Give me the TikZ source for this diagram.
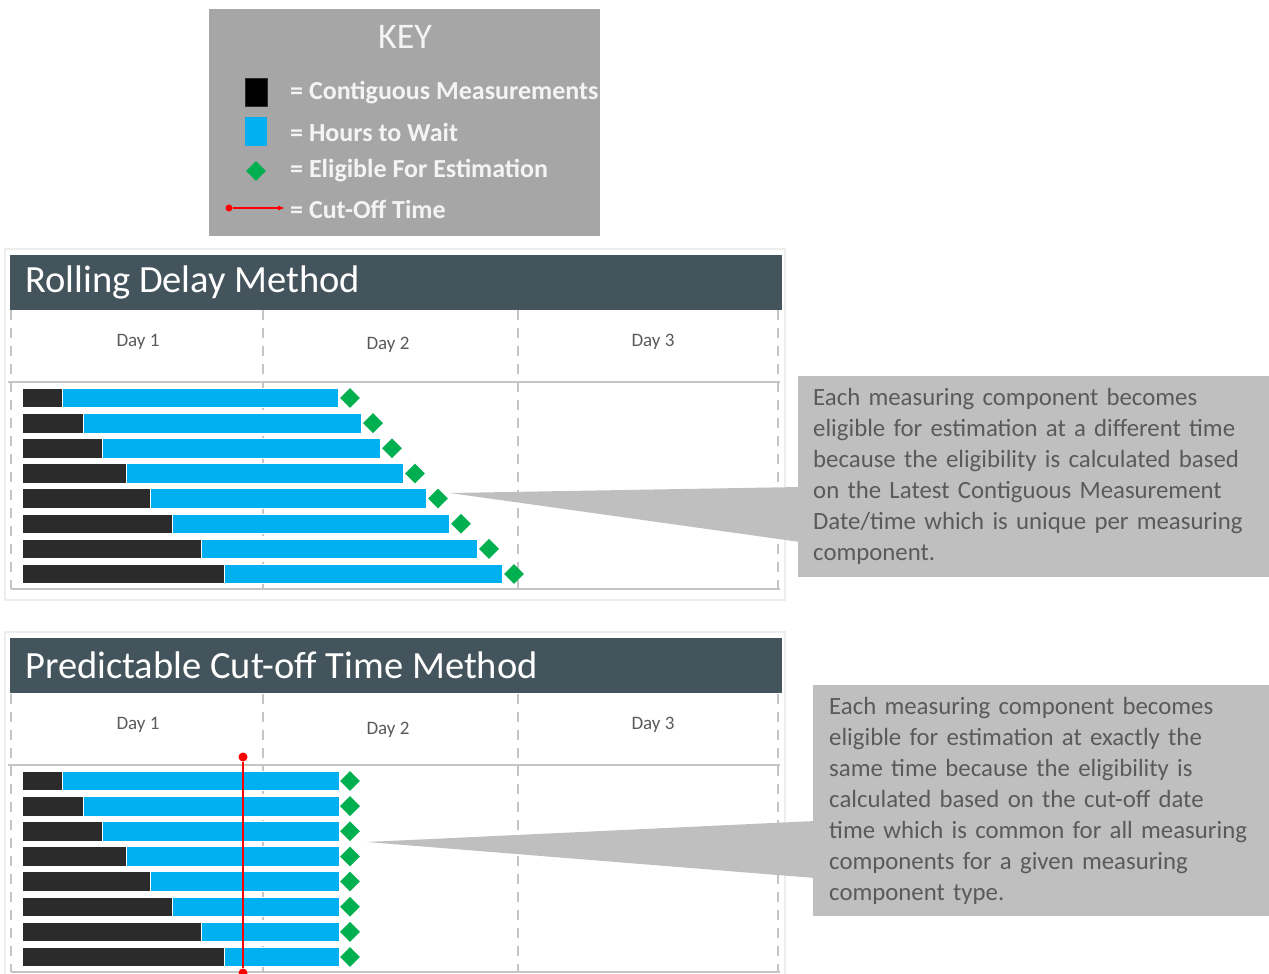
\documentclass[tikz,border=0pt]{standalone}
\usepackage{fontspec}
\setmainfont{Carlito}
\usetikzlibrary{arrows.meta,positioning,calc,shapes.geometric}

\definecolor{keygray}{HTML}{A6A6A6}
\definecolor{keywhite}{HTML}{F4F4F4}
\definecolor{slate}{HTML}{44545C}
\definecolor{barblack}{HTML}{2B2B2B}
\definecolor{waitblue}{HTML}{00B0F0}
\definecolor{eliggreen}{HTML}{00B050}
\definecolor{notegray}{HTML}{BFBFBF}
\definecolor{txtgray}{HTML}{5A5A5A}
\definecolor{gridgray}{HTML}{C4C4C4}

\begin{document}
\begin{tikzpicture}[
  x=1pt, y=-1pt,
  keybox/.style={fill=keygray, anchor=north west, inner sep=0pt, minimum width=391pt, minimum height=227pt},
  keytxt/.style={anchor=west, inner sep=0pt, text=keywhite, font=\bfseries\fontsize{26}{30}\selectfont},
  head/.style={fill=slate, anchor=north west, inner sep=0pt, minimum width=772pt, minimum height=55pt},
  headtxt/.style={text=white, inner sep=0pt, font=\fontsize{38.5}{44}\selectfont},
  daylbl/.style={text=txtgray, font=\fontsize{19}{22}\selectfont},
  grid/.style={gridgray, line width=2pt, dash pattern=on 10pt off 8pt},
  axis/.style={gridgray, line width=2.5pt},
  frame/.style={draw=black!7, line width=1.5pt},
  measbar/.style={fill=barblack, draw=white, line width=0.8pt},
  waitbar/.style={fill=waitblue, draw=white, line width=0.8pt},
  elig/.style={diamond, fill=eliggreen, inner sep=0pt, minimum size=20pt},
  note/.style={fill=notegray, text=txtgray, anchor=north west, align=left, inner ysep=0pt,
    font=\fontsize{24.8}{31}\selectfont},
  cutoff/.style={red, line width=1.6pt},
  >={Latex[length=7pt]}
]
\useasboundingbox (0,0) rectangle (1269,974);

% key
\node[keybox] (key) at (209,9) {};
\node[text=keywhite, font=\fontsize{36}{40}\selectfont] (keyttl) at (405,37) {KEY};
\node[fill=black, draw=barblack, minimum width=22pt, minimum height=28pt, inner sep=0pt] (kblk) at (256,92) {};
\node[fill=waitblue, minimum width=22pt, minimum height=29pt, inner sep=0pt] (kblu) at (256,131) {};
\node[elig] (kdia) at (256,171) {};
\node[fill=red, circle, inner sep=0pt, minimum size=7pt] (kdot) at (229,208) {};
\coordinate (kend) at (285,208);
\draw[cutoff, line width=1.2pt, ->] (kdot) -- (kend);
\node[keytxt] (t1) at (290,93) {= Contiguous Measurements};
\node[keytxt] (t2) at (290,132) {= Hours to Wait};
\node[keytxt] (t3) at (290,171) {= Eligible For Estimation};
\node[keytxt] (t4) at (290,209) {= Cut-Off Time};

% rolling delay chart
\draw[frame] (5,249) rectangle (785,600);
\node[head] (hdrA) at (10,255) {};
\node[headtxt, right=15pt of hdrA.west] (ttlA) {Rolling Delay Method};
\foreach \gx in {11,263,518,778}
  \draw[grid] (\gx,310) -- (\gx,589);
\draw[axis] (8,382) -- (780,382);
\draw[axis] (11,589) -- (780,589);
\node[daylbl] (dA1) at (138,342) {Day 1};
\node[daylbl] (dA2) at (388,345) {Day 2};
\node[daylbl] (dA3) at (653,342) {Day 3};
\foreach \blk/\wt [count=\i from 0] in {62/338,83/361,102/380,126/403,150/426,172/449,201/477,224/502} {
  \pgfmathsetmacro\ry{398+25.14*\i}
  \draw[measbar] (22,\ry-9.8) rectangle (\blk,\ry+9.8);
  \draw[waitbar] (\blk,\ry-9.8) rectangle (\wt,\ry+9.8);
  \node[elig] (eA\i) at (\wt+12,\ry) {};
}

% predictable cut-off chart
\draw[frame] (5,632) rectangle (785,990);
\node[head] (hdrB) at (10,638) {};
\node[headtxt, right=15pt of hdrB.west] (ttlB) {Predictable Cut-off Time Method};
\foreach \gx in {11,263,518,778}
  \draw[grid] (\gx,694) -- (\gx,972);
\draw[axis] (8,765) -- (780,765);
\draw[axis] (11,972) -- (780,972);
\node[daylbl] (dB1) at (138,725) {Day 1};
\node[daylbl] (dB2) at (388,730) {Day 2};
\node[daylbl] (dB3) at (653,725) {Day 3};
\foreach \blk [count=\i from 0] in {62,83,102,126,150,172,201,224} {
  \pgfmathsetmacro\ry{781+25.14*\i}
  \draw[measbar] (22,\ry-9.8) rectangle (\blk,\ry+9.8);
  \draw[waitbar] (\blk,\ry-9.8) rectangle (339,\ry+9.8);
  \node[elig] (eB\i) at (350,\ry) {};
}
\node[fill=red, circle, inner sep=0pt, minimum size=9pt] (cutT) at (243,757) {};
\node[fill=red, circle, inner sep=0pt, minimum size=9pt] (cutB) at (243,973) {};
\draw[cutoff] (cutT) -- (cutB);

% notes
\node[note, text width=441pt, inner xsep=15pt, minimum height=201pt] (noteA) at (798,376)
  {Each measuring component becomes\\
   eligible for estimation at a different time\\
   because the eligibility is calculated based\\
   on the Latest Contiguous Measurement\\
   Date/time which is unique per measuring\\
   component.};
\coordinate (tipA) at (450,493);
\fill[notegray] (tipA) -- ($(noteA.north west)+(2,111)$) -- ($(noteA.north west)+(2,166)$) -- cycle;

\node[note, text width=424pt, inner xsep=16pt, minimum height=231pt] (noteB) at (813,685)
  {Each measuring component becomes\\
   eligible for estimation at exactly the\\
   same time because the eligibility is\\
   calculated based on the cut-off date\\
   time which is common for all measuring\\
   components for a given measuring\\
   component type.};
\coordinate (tipB) at (367,842);
\fill[notegray] (tipB) -- ($(noteB.north west)+(2,136)$) -- ($(noteB.north west)+(2,193)$) -- cycle;
\end{tikzpicture}
\end{document}
